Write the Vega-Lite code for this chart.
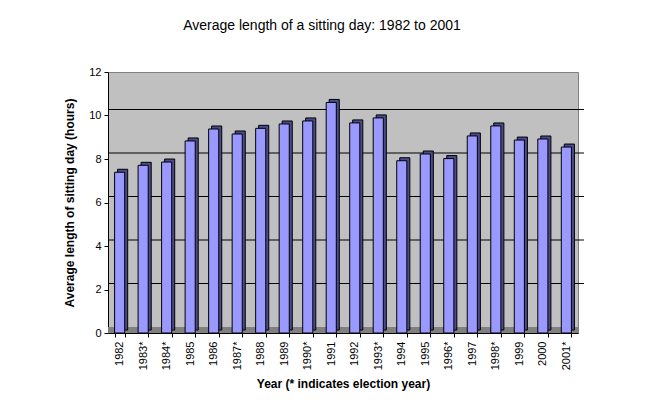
{
  "$schema": "https://vega.github.io/schema/vega-lite/v6.json",
  "width": 470,
  "height": 261,
  "autosize": "none",
  "padding": {"left": 108, "top": 72, "right": 67, "bottom": 83},
  "background": "white",
  "title": {
    "text": "Average length of a sitting day: 1982 to 2001",
    "font": "Liberation Sans",
    "fontSize": 14,
    "fontWeight": "normal",
    "color": "black",
    "anchor": "middle",
    "offset": 33,
    "dx": -21
  },
  "config": {
    "view": {"fill": "#C0C0C0", "stroke": "#808080"},
    "axis": {
      "labelFont": "Liberation Sans",
      "titleFont": "Liberation Sans",
      "labelColor": "black",
      "titleColor": "black",
      "domainColor": "black",
      "tickColor": "black",
      "labelFontSize": 11,
      "titleFontSize": 12,
      "titleFontWeight": "bold"
    }
  },
  "datasets": {
    "bars": [
      {"year": "1982", "hours": 7.39},
      {"year": "1983*", "hours": 7.71},
      {"year": "1984*", "hours": 7.86},
      {"year": "1985", "hours": 8.83},
      {"year": "1986", "hours": 9.38},
      {"year": "1987*", "hours": 9.15},
      {"year": "1988", "hours": 9.41},
      {"year": "1989", "hours": 9.61},
      {"year": "1990*", "hours": 9.75},
      {"year": "1991", "hours": 10.6},
      {"year": "1992", "hours": 9.66},
      {"year": "1993*", "hours": 9.89},
      {"year": "1994", "hours": 7.92},
      {"year": "1995", "hours": 8.23},
      {"year": "1996*", "hours": 8.02},
      {"year": "1997", "hours": 9.06},
      {"year": "1998*", "hours": 9.52},
      {"year": "1999", "hours": 8.87},
      {"year": "2000", "hours": 8.92},
      {"year": "2001*", "hours": 8.55}
    ],
    "grid": [
      {"hours": 2}, {"hours": 4}, {"hours": 6}, {"hours": 8}, {"hours": 10}
    ],
    "floor": [
      {"hours": 0}
    ]
  },
  "layer": [
    {
      "data": {"name": "grid"},
      "mark": {"type": "rule", "color": "black", "strokeWidth": 1, "xOffset": 6, "yOffset": -6},
      "encoding": {
        "y": {"field": "hours", "type": "quantitative", "scale": {"domain": [0, 12]}}
      }
    },
    {
      "data": {"name": "floor"},
      "mark": {"type": "rule", "color": "#808080", "strokeWidth": 6, "yOffset": -3},
      "encoding": {
        "y": {"field": "hours", "type": "quantitative"}
      }
    },
    {
      "data": {"name": "bars"},
      "encoding": {
        "x": {
          "field": "year",
          "type": "nominal",
          "sort": null,
          "scale": {"paddingInner": 0.57, "paddingOuter": 0.28},
          "axis": {
            "title": "Year (* indicates election year)",
            "labelAngle": -90,
            "labelAlign": "right",
            "labelBaseline": "middle",
            "labelPadding": 4,
            "tickSize": 4,
            "titlePadding": 9,
            "tickBand": "extent"
          }
        },
        "y": {
          "field": "hours",
          "type": "quantitative",
          "scale": {"domain": [0, 12]},
          "axis": {
            "title": "Average length of sitting day (hours)",
            "values": [0, 2, 4, 6, 8, 10, 12],
            "grid": false,
            "tickSize": 4,
            "labelPadding": 3,
            "titlePadding": 12
          }
        }
      },
      "layer": [
        {
          "mark": {"type": "bar", "fill": "#4B4B8C", "stroke": "black", "strokeWidth": 1, "xOffset": 3, "yOffset": -3}
        },
        {
          "mark": {"type": "bar", "fill": "#9999FF", "stroke": "black", "strokeWidth": 1}
        }
      ]
    }
  ]
}
